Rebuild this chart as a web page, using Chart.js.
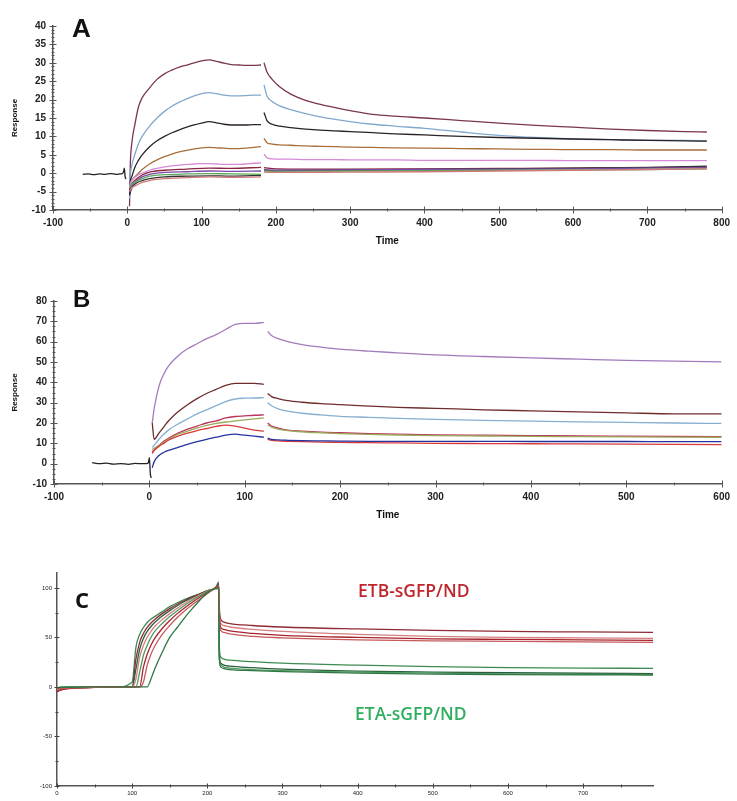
<!DOCTYPE html>
<html>
<head>
<meta charset="utf-8">
<script src="https://cdn.jsdelivr.net/npm/chart.js@4/dist/chart.umd.min.js"></script>
<style>
  html, body { margin: 0; padding: 0; background: #fff; }
  body { width: 737px; height: 801px; position: relative; overflow: hidden; }
  canvas { position: absolute; left: 0; }
  .tag { position: absolute; line-height: 1; white-space: nowrap; }
  .big { font-family: "Liberation Sans", Arial, sans-serif; font-weight: bold; color: #111; }
  .lbl { font-family: "Open Sans", sans-serif; font-weight: 600; }
</style>
</head>
<body>
<canvas id="chartA" width="737" height="250" style="top:0"></canvas>
<canvas id="chartB" width="737" height="254" style="top:270px"></canvas>
<canvas id="chartC" width="737" height="241" style="top:560px"></canvas>
<div class="tag big" style="left:72px;top:15px;font-size:26px">A</div>
<div class="tag big" style="left:73px;top:287px;font-size:24px">B</div>
<div class="tag lbl" style="left:75px;top:588px;font-size:22px;font-weight:700;color:#111">C</div>
<div class="tag lbl" style="left:358px;top:582px;font-size:17.5px;color:#c0272d">ETB-sGFP/ND</div>
<div class="tag lbl" style="left:355px;top:705px;font-size:17.5px;color:#2fae5f">ETA-sGFP/ND</div>
<script>
// ---- Panel A: association 0-180 s, dissociation 184-780 s ----
const aXTicks = [-100, 0, 100, 200, 300, 400, 500, 600, 700, 800];
const aYTicks = [-10, -5, 0, 5, 10, 15, 20, 25, 30, 35, 40];
const aBaseT = [-60, -52, -45, -38, -30, -22, -15, -10, -7, -5, -4, -3, -2];
const aBaseR = [-0.3, -0.2, -0.4, -0.2, -0.3, -0.1, -0.3, -0.2, -0.1, 0.4, 1.4, -0.8, -1.6];
const aOnT  = [3, 4, 6, 10, 15, 20, 30, 40, 50, 60, 70, 80, 90, 100, 110, 120, 130, 140, 150, 160, 170, 180];
const aOffT = [184, 188, 195, 205, 220, 240, 260, 280, 300, 330, 360, 400, 450, 500, 550, 600, 650, 700, 750, 780];
const aMaroonOn  = [-9, 2, 8, 13, 18, 20.5, 23.2, 25.5, 27, 28, 28.8, 29.4, 30, 30.5, 30.8, 30.4, 29.9, 29.5, 29.4, 29.3, 29.3, 29.4];
const aMaroonOff = [30, 27.5, 25.5, 23.5, 21.5, 19.8, 18.7, 17.8, 17, 16, 15.5, 15, 14.3, 13.6, 13, 12.5, 12, 11.6, 11.3, 11.2];
const aBlueOn    = [-7, -1, 2, 5, 8, 10, 12.8, 15, 16.8, 18.2, 19.3, 20.2, 21, 21.6, 21.9, 21.6, 21.2, 21, 21, 21.1, 21.2, 21.2];
const aBlueOff   = [24, 21, 19.5, 18.3, 17.3, 16.2, 15.3, 14.6, 14, 13.3, 12.8, 12.2, 11.2, 10.3, 9.7, 9.3, 9.1, 9, 8.9, 8.8];
const aBlackOn   = [-6, -2.5, -1, 1.5, 3.5, 5, 7.2, 8.8, 10, 11, 11.8, 12.5, 13.1, 13.6, 14, 13.7, 13.3, 13.1, 13.1, 13.1, 13.2, 13.2];
const aBlackOff  = [16.5, 14.3, 13.3, 12.8, 12.4, 12, 11.7, 11.5, 11.3, 11, 10.7, 10.4, 10, 9.7, 9.5, 9.3, 9.1, 8.9, 8.8, 8.7];
const aBrownOn   = [-5, -3, -2, -1, 0, 1, 2.5, 3.6, 4.5, 5.2, 5.8, 6.2, 6.6, 6.9, 7, 6.9, 6.8, 6.7, 6.7, 6.8, 7, 7.2];
const aBrownOff  = [9.5, 8.3, 7.9, 7.7, 7.6, 7.4, 7.3, 7.2, 7.1, 7, 6.9, 6.8, 6.7, 6.6, 6.5, 6.4, 6.4, 6.3, 6.3, 6.3];
const aPinkOn    = [-4, -3, -2, -1.2, -0.5, 0, 0.8, 1.3, 1.7, 2, 2.2, 2.4, 2.5, 2.6, 2.6, 2.5, 2.4, 2.4, 2.4, 2.5, 2.7, 2.8];
const aPinkOff   = [5.2, 4.2, 3.9, 3.8, 3.8, 3.7, 3.7, 3.7, 3.6, 3.6, 3.6, 3.5, 3.5, 3.5, 3.5, 3.4, 3.4, 3.4, 3.4, 3.4];
const aLowOnT  = [3, 6, 10, 20, 30, 50, 80, 110, 140, 180];
const aLowOffT = [184, 200, 300, 400, 500, 600, 700, 780];
const aRedOn    = [-5, -3, -2, -0.5, 0.3, 0.8, 1.1, 1.4, 1.3, 1.6];
const aRedOff   = [1.5, 1.2, 1.1, 1.2, 1.3, 1.4, 1.5, 1.7];
const aVioOn    = [-5, -3.5, -2.5, -1, -0.3, 0.2, 0.4, 0.6, 0.5, 0.6];
const aVioOff   = [1.0, 0.8, 0.9, 1.0, 1.1, 1.2, 1.4, 1.5];
const aGreenOn  = [-4, -3, -2.5, -1.5, -0.8, -0.4, -0.2, -0.1, -0.2, -0.3];
const aGreenOff = [0.6, 0.5, 0.6, 0.7, 0.8, 0.9, 1.0, 1.2];
const aGrayOn   = [-6, -4, -3, -2, -1.5, -1, -0.8, -0.7, -0.8, -0.6];
const aGrayOff  = [0.8, 0.7, 0.8, 1.0, 1.2, 1.4, 1.6, 1.9];
const aRoseOn   = [-5, -4, -3.5, -2.5, -2, -1.5, -1.2, -1, -1.1, -1.0];
const aRoseOff  = [0.3, 0.2, 0.3, 0.4, 0.6, 0.8, 1.0, 1.2];

// ---- Panel B: association 3-120 s, dissociation 124-600 s ----
const bXTicks = [-100, 0, 100, 200, 300, 400, 500, 600];
const bYTicks = [-10, 0, 10, 20, 30, 40, 50, 60, 70, 80];
const bBaseT = [-60, -52, -45, -38, -30, -22, -15, -8, -3, -1, 0, 1, 2];
const bBaseR = [0.5, 0, 0.3, -0.2, 0, -0.3, 0.1, 0, 0, 0.5, 3, -5, -7];
const bOnT  = [3, 5, 10, 15, 20, 30, 40, 50, 60, 70, 80, 90, 100, 110, 120];
const bOffT = [124, 128, 135, 145, 160, 180, 200, 230, 260, 300, 350, 400, 450, 500, 550, 600];
const bPurpleOn  = [20, 27, 38, 44, 48, 53, 56.5, 59, 61.5, 63.5, 66, 68.5, 69, 69, 69.5];
const bPurpleOff = [65, 63, 61.5, 60, 58.5, 57.3, 56.3, 55.3, 54.5, 53.5, 52.7, 52, 51.4, 50.8, 50.4, 50.1];
const bMaroonOn  = [20, 12, 15, 18, 21, 25.5, 29, 32, 34.5, 36.5, 38.5, 39.5, 39.5, 39.5, 39];
const bMaroonOff = [34.5, 33, 32, 31, 30.2, 29.5, 29, 28.3, 27.7, 27.2, 26.5, 26, 25.5, 25, 24.5, 24.5];
const bSkyOn     = [8, 9, 12, 14.5, 16.5, 19.5, 22, 24.5, 26.5, 28.5, 30.5, 31.8, 32.2, 32.3, 32.5];
const bSkyOff    = [30, 28.5, 27, 25.8, 24.8, 24, 23.3, 22.8, 22.3, 21.8, 21.3, 20.9, 20.6, 20.3, 20, 19.8];
const bCrimsonOn  = [5, 6.5, 9, 11, 12.5, 15, 17, 18.5, 20, 21, 22.5, 23.2, 23.5, 23.8, 24];
const bCrimsonOff = [20, 18.5, 17.5, 16.5, 16, 15.5, 15.2, 14.8, 14.5, 14.2, 14, 13.8, 13.6, 13.5, 13.4, 13.3];
const bOliveOn   = [7, 7.5, 9, 10.5, 12, 14.5, 16, 17.5, 18.8, 19.8, 20.5, 21, 21.5, 22, 22.5];
const bOliveOff  = [19, 18, 17, 16.3, 15.7, 15.2, 14.8, 14.4, 14.1, 13.8, 13.6, 13.4, 13.3, 13.2, 13.1, 13];
const bRedOn     = [6, 6.5, 8.5, 10, 11.5, 13.5, 15, 16.3, 17.3, 18.3, 19, 18.5, 17.5, 16.5, 16];
const bRedOff    = [12, 11.5, 11.2, 11, 10.8, 10.6, 10.5, 10.3, 10.2, 10, 9.9, 9.8, 9.7, 9.6, 9.5, 9.4];
const bNavyOn    = [-2, 1, 4, 5.5, 6.5, 8, 9.5, 10.8, 12, 13, 14, 14.5, 14, 13.5, 13];
const bNavyOff   = [12.5, 12, 11.7, 11.5, 11.3, 11.2, 11.1, 11, 11, 11, 11, 10.9, 10.9, 10.9, 10.8, 10.8];

// ---- Panel C: normalised, rise ~100-213 s, drop at 215 s ----
const cXTicks = [0, 100, 200, 300, 400, 500, 600, 700];
const cYTicks = [-100, -50, 0, 50, 100];
const cOnT  = [0, 5, 20, 50, 80, 100, 105, 110, 115, 120, 125, 130, 140, 150, 160, 170, 180, 190, 200, 210];
const cOffT = [213, 215, 216, 218, 222, 230, 260, 300, 400, 500, 600, 700, 793];
const cRed1On  = [-4, -3, -1, -0.5, 0, 0, 28, 45, 54, 60, 64.5, 68, 74, 79, 83.5, 87.5, 91, 94, 97, 99.5];
const cRed1Off = [102, 104, 80, 68, 65.5, 64, 62, 60.5, 58.5, 57, 56, 55.5, 55];
const cRed2On  = [-3, -2, -1, -0.3, 0, 0, 8, 30, 42, 50, 56, 61, 68, 74, 79.5, 84.5, 89, 93, 96.5, 99.5];
const cRed2Off = [101, 102, 75, 64, 62, 60.5, 58, 56, 53, 51, 50, 49.5, 49];
const cRed3On  = [-5, -3, -1.5, -0.5, 0, 0, 0, 0, 20, 33, 42, 49, 59, 67, 74, 80, 85.5, 90.5, 95, 99.5];
const cRed3Off = [101, 101, 72, 60, 58, 56.5, 54, 52, 50, 48.5, 48, 47.5, 47];
const cRed4On  = [-2, -1.5, -1, -0.3, 0, 0, 0, 0, 5, 22, 33, 41, 53, 62, 70, 77, 83, 88.5, 94, 99.5];
const cRed4Off = [100, 101, 70, 57, 55, 53.5, 51, 49.5, 47.5, 46.5, 46, 45.5, 45];
const cGreen1On  = [-1, -0.5, -0.3, 0, 0, 5, 40, 53, 60, 65, 68.5, 71, 76, 81, 85, 88.5, 91.5, 94, 97, 99.5];
const cGreen1Off = [103, 106, 40, 30, 28, 27, 25.5, 24, 22, 20.5, 19.5, 19, 18.8];
const cGreen2On  = [-1, -0.5, -0.3, 0, 0, 0, 18, 38, 49, 56, 61, 65, 71.5, 77, 82, 86.5, 90, 93.5, 97, 99.5];
const cGreen2Off = [101, 103, 32, 24, 22, 21, 19.5, 18, 16, 15, 14.3, 13.8, 13.5];
const cGreen3On  = [-1, -0.5, -0.3, 0, 0, 0, 0, 15, 32, 42, 50, 56, 64, 71, 77, 82.5, 87.5, 92, 96, 99.5];
const cGreen3Off = [100, 102, 30, 22, 20, 19, 17.5, 16.5, 15, 14, 13.2, 12.8, 12.5];
const cGreen4On  = [-1, -0.5, -0.3, 0, 0, 0, 0, 0, 0, 0, 8, 18, 35, 50, 60, 70, 79, 87.5, 95, 99];
const cGreen4Off = [99, 101, 28, 20, 18.5, 17.5, 16.5, 15.5, 14, 13, 12.5, 12.2, 12];

function pts(times, vals) {
  return times.map((t, i) => ({ x: t, y: vals[i] }));
}
// association + gap + dissociation
function split(onT, on, offT, off, gapAt) {
  return [...pts(onT, on), { x: gapAt, y: null }, ...pts(offT, off)];
}
function line(data, color, width) {
  return { data, borderColor: color, borderWidth: width || 1.3, pointRadius: 0,
           cubicInterpolationMode: 'monotone', spanGaps: false };
}

// Major ticks cross the axis; minor ticks are short marks.
const axisTicks = {
  id: 'axisTicks',
  afterDraw(chart, args, o) {
    const { ctx, chartArea: a } = chart;
    const xs = chart.scales.x, ys = chart.scales.y;
    const isMajor = (v, step) => Math.abs(v / step - Math.round(v / step)) < 1e-6;
    ctx.save();
    ctx.strokeStyle = o.color;
    ctx.lineWidth = 1;
    ctx.beginPath();
    for (let v = xs.min; v <= xs.max + 1e-9; v += o.xMinor) {
      const p = Math.round(xs.getPixelForValue(v)) + 0.5;
      const l = isMajor(v, o.xMajor) ? o.major : o.minor;
      ctx.moveTo(p, a.bottom - l); ctx.lineTo(p, a.bottom + l);
    }
    for (let v = ys.min; v <= ys.max + 1e-9; v += o.yMinor) {
      const p = Math.round(ys.getPixelForValue(v)) + 0.5;
      const l = isMajor(v, o.yMajor) ? o.major : o.minor;
      ctx.moveTo(a.left - l, p); ctx.lineTo(a.left + l, p);
    }
    ctx.stroke();
    ctx.restore();
  }
};

const FONT = '"Liberation Sans", Arial, sans-serif';
const asTicks = list => s => { s.ticks = list.map(v => ({ value: v })); };

function makeChart(id, datasets, cfg) {
  return new Chart(document.getElementById(id), {
    type: 'line',
    data: { datasets },
    plugins: [axisTicks],
    options: {
      responsive: false,
      animation: false,
      layout: { padding: cfg.pad },
      plugins: {
        legend: { display: false },
        tooltip: { enabled: false },
        axisTicks: cfg.minor
      },
      scales: {
        x: {
          type: 'linear', min: cfg.xMin, max: cfg.xMax,
          grid: { display: false, drawTicks: false },
          border: { display: true, color: '#555', width: 1.5 },
          ticks: { padding: cfg.xPad, color: '#222', maxRotation: 0, autoSkip: false,
                   font: { family: FONT, size: cfg.tickSize, weight: cfg.tickWeight } },
          title: { display: !!cfg.xTitle, text: cfg.xTitle, color: '#111',
                   font: { family: FONT, size: 10, weight: 'bold' }, padding: { top: 0, bottom: 3 } },
          afterBuildTicks: asTicks(cfg.xTicks),
          afterFit: s => { s.height = cfg.xH; }
        },
        y: {
          min: cfg.yMin, max: cfg.yMax,
          grid: { display: false, drawTicks: false },
          border: { display: true, color: '#555', width: 1.5 },
          ticks: { padding: cfg.yPad, color: '#222', autoSkip: false,
                   font: { family: FONT, size: cfg.tickSize, weight: cfg.tickWeight } },
          title: { display: !!cfg.yTitle, text: cfg.yTitle, color: '#111',
                   font: { family: FONT, size: 8, weight: 'bold' }, padding: { top: 10, bottom: 0 } },
          afterBuildTicks: asTicks(cfg.yTicks),
          afterFit: s => { s.width = cfg.yW; }
        }
      }
    }
  });
}

makeChart('chartA', [
  line(pts(aBaseT, aBaseR), '#222'),
  line(split(aLowOnT, aRoseOn, aLowOffT, aRoseOff, 182), '#d27a7a'),
  line(split(aLowOnT, aGreenOn, aLowOffT, aGreenOff, 182), '#5aa85a'),
  line(split(aLowOnT, aVioOn, aLowOffT, aVioOff, 182), '#7a4aa8'),
  line(split(aLowOnT, aGrayOn, aLowOffT, aGrayOff, 182), '#333'),
  line(split(aLowOnT, aRedOn, aLowOffT, aRedOff, 182), '#8c2444'),
  line(split(aOnT, aPinkOn, aOffT, aPinkOff, 182), '#d58ad8'),
  line(split(aOnT, aBrownOn, aOffT, aBrownOff, 182), '#a86e3c'),
  line(split(aOnT, aBlackOn, aOffT, aBlackOff, 182), '#2a2226'),
  line(split(aOnT, aBlueOn, aOffT, aBlueOff, 182), '#80a8cc'),
  line(split(aOnT, aMaroonOn, aOffT, aMaroonOff, 182), '#7a3552')
], {
  pad: { top: 26, right: 7, left: 0, bottom: 0 },
  xMin: -100, xMax: 800, yMin: -10, yMax: 40, xTicks: aXTicks, yTicks: aYTicks,
  xH: 40, yW: 53, xPad: 7, yPad: 7, tickSize: 10, tickWeight: 'bold',
  xTitle: 'Time', yTitle: 'Response',
  minor: { color: '#555', xMinor: 50, xMajor: 100, yMinor: 1, yMajor: 5, major: 3.5, minor: 1.5 }
});

makeChart('chartB', [
  line(pts(bBaseT, bBaseR), '#222'),
  line(split(bOnT, bNavyOn, bOffT, bNavyOff, 122), '#2233a0'),
  line(split(bOnT, bRedOn, bOffT, bRedOff, 122), '#d83a3a'),
  line(split(bOnT, bOliveOn, bOffT, bOliveOff, 122), '#9aa85a'),
  line(split(bOnT, bCrimsonOn, bOffT, bCrimsonOff, 122), '#b8345a'),
  line(split(bOnT, bSkyOn, bOffT, bSkyOff, 122), '#86aed0'),
  line(split(bOnT, bMaroonOn, bOffT, bMaroonOff, 122), '#6e2c2c'),
  line(split(bOnT, bPurpleOn, bOffT, bPurpleOff, 122), '#a27bbd')
], {
  pad: { top: 31, right: 10, left: 0, bottom: 0 },
  xMin: -100, xMax: 600, yMin: -10, yMax: 80, xTicks: bXTicks, yTicks: bYTicks,
  xH: 40, yW: 54, xPad: 7, yPad: 7, tickSize: 10, tickWeight: 'bold',
  xTitle: 'Time', yTitle: 'Response',
  minor: { color: '#555', xMinor: 50, xMajor: 100, yMinor: 2.5, yMajor: 10, major: 3.5, minor: 1.5 }
});

makeChart('chartC', [
  line([...pts(cOnT, cGreen4On), ...pts(cOffT, cGreen4Off)], '#2f7744'),
  line([...pts(cOnT, cRed4On), ...pts(cOffT, cRed4Off)], '#c65a5a'),
  line([...pts(cOnT, cRed3On), ...pts(cOffT, cRed3Off)], '#a8232e'),
  line([...pts(cOnT, cGreen3On), ...pts(cOffT, cGreen3Off)], '#4f9a60'),
  line([...pts(cOnT, cRed2On), ...pts(cOffT, cRed2Off)], '#d48080'),
  line([...pts(cOnT, cGreen2On), ...pts(cOffT, cGreen2Off)], '#2a5e3e'),
  line([...pts(cOnT, cRed1On), ...pts(cOffT, cRed1Off)], '#8e2a34'),
  line([...pts(cOnT, cGreen1On), ...pts(cOffT, cGreen1Off)], '#3f8a52')
], {
  pad: { top: 13, right: 84, left: 0, bottom: 0 },
  xMin: 0, xMax: 793, yMin: -100, yMax: 115, xTicks: cXTicks, yTicks: cYTicks,
  xH: 15, yW: 57, xPad: 4, yPad: 5, tickSize: 6, tickWeight: 'normal',
  xTitle: '', yTitle: '',
  minor: { color: '#444', xMinor: 50, xMajor: 100, yMinor: 25, yMajor: 50, major: 2.5, minor: 1.5 }
});
</script>
</body>
</html>
